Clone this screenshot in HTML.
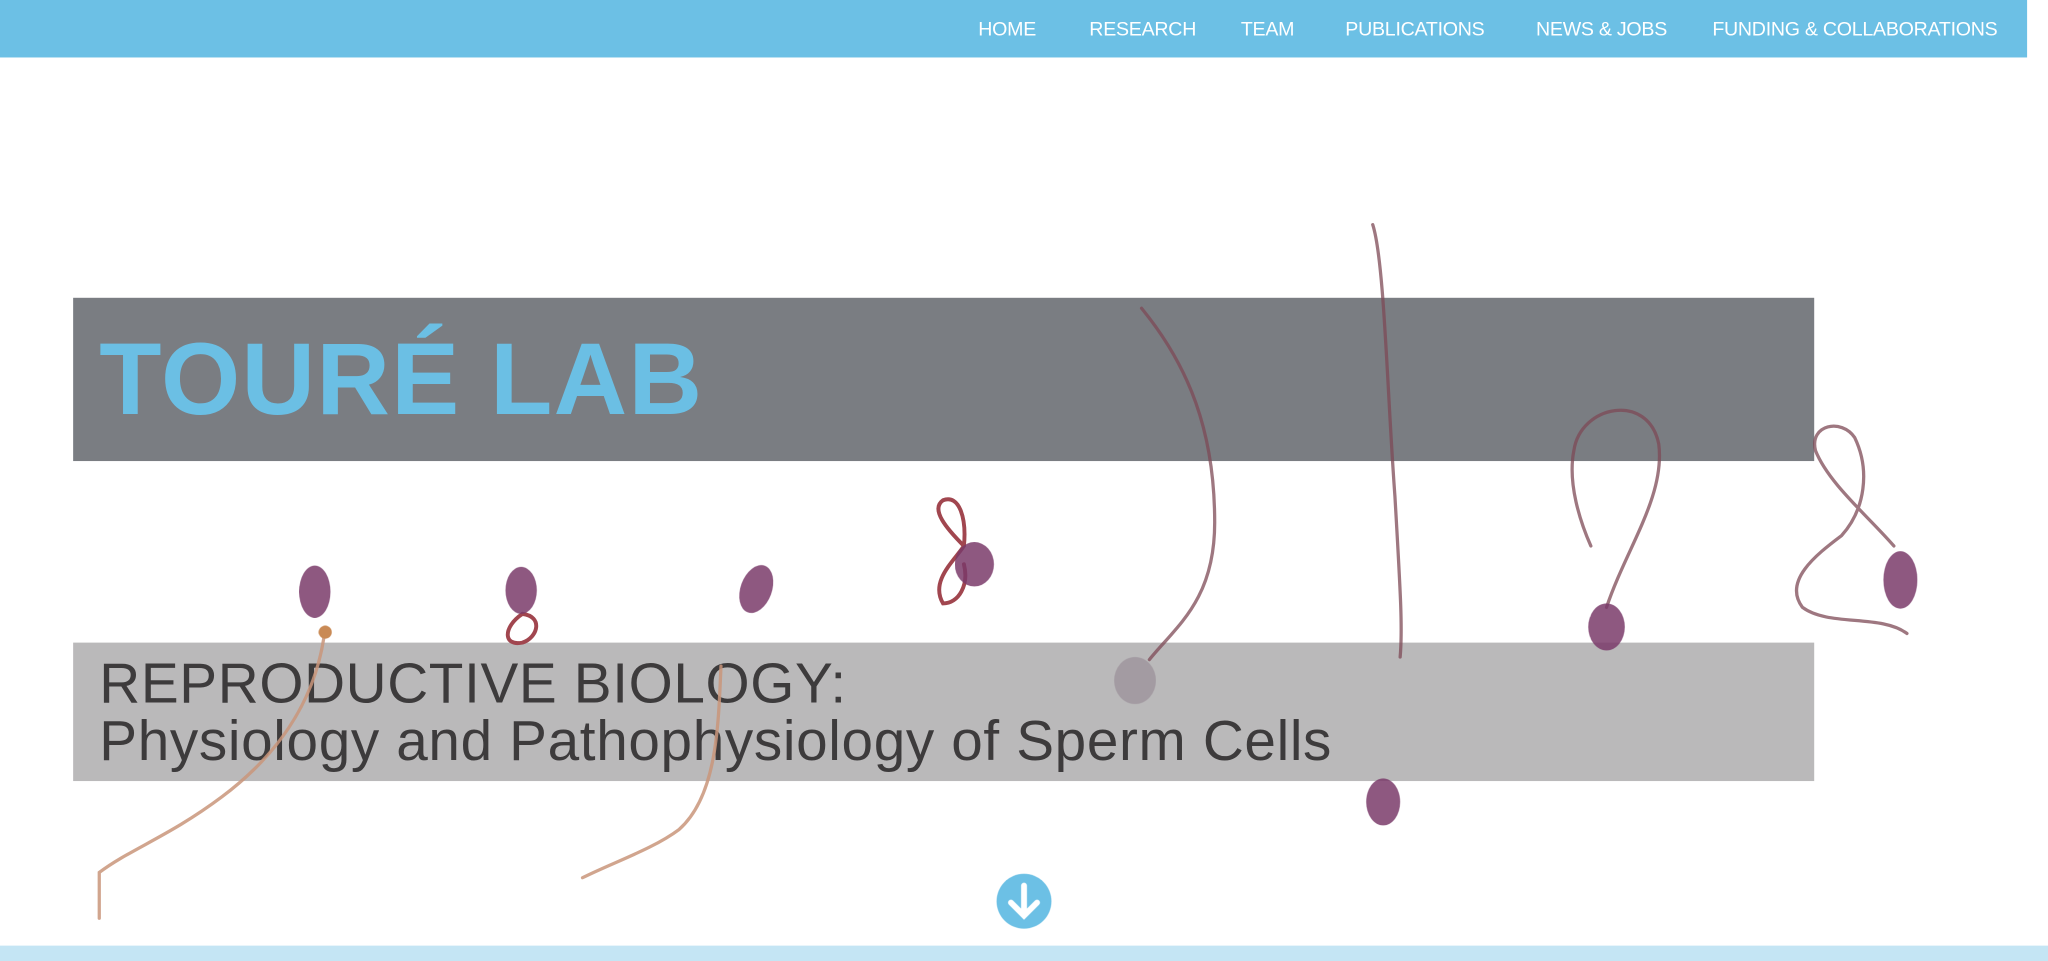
<!DOCTYPE html>
<html><head><meta charset="utf-8"><style>
html,body{margin:0;padding:0;width:2048px;height:961px;overflow:hidden;background:#fff}
#wrap{position:absolute;left:0;top:0;width:1568px;height:736px;transform:scale(1.30612);transform-origin:0 0;font-family:"Liberation Sans",sans-serif}
#nav{position:absolute;left:0;top:0;width:1552px;height:44px;background:#6cc0e5}
.ni{position:absolute;top:14px;color:#fff;font-size:15px;white-space:nowrap;letter-spacing:-0.2px}
#tbox{position:absolute;left:56px;top:228px;width:1333px;height:125px;background:#7a7d82}
#title{position:absolute;left:76px;top:240px;font-size:78px;font-weight:bold;color:#6bbfe4;letter-spacing:1px;line-height:100px}
#sbox{position:absolute;left:56px;top:492px;width:1333px;height:106px;background:#bab9ba}
#sub{position:absolute;left:76px;top:502px;font-size:43.4px;color:#3d3b3c;line-height:44px;letter-spacing:0.5px}
#bottom{position:absolute;left:0;top:724px;width:1568px;height:12px;background:#c4e5f4}
svg{position:absolute;left:0;top:0}
</style></head><body>
<div id="wrap">
<div id="nav">
<span class="ni" style="left:749px">HOME</span>
<span class="ni" style="left:834px">RESEARCH</span>
<span class="ni" style="left:950px">TEAM</span>
<span class="ni" style="left:1030px">PUBLICATIONS</span>
<span class="ni" style="left:1176px">NEWS &amp; JOBS</span>
<span class="ni" style="left:1311px">FUNDING &amp; COLLABORATIONS</span>
</div>
<div id="tbox"></div>
<div id="title">TOURÉ LAB</div>
<div id="sbox"></div>
<div id="sub">REPRODUCTIVE BIOLOGY:<br>Physiology and Pathophysiology of Sperm Cells</div>
<svg width="1568" height="736" fill="none" stroke-linecap="round">
<g stroke="#c9957a" stroke-width="2.5" opacity="0.85">
<path d="M248,488 C240,540 210,580 170,610 C130,640 100,650 76,668 L76,703"/>
<path d="M552,510 C550,560 548,610 520,635 C500,650 470,660 446,672"/>
</g>
<g stroke="#7d4a55" stroke-width="2.5" opacity="0.75">
<path d="M874,236 C910,280 930,330 930,400 C930,460 900,480 880,505"/>
<path d="M1051,172 C1060,200 1062,300 1068,380 C1072,450 1074,480 1072,503"/>
<path d="M1230,465 C1245,420 1275,380 1270,340 C1262,300 1210,310 1205,345 C1200,370 1210,400 1218,418"/>
<path d="M1450,418 C1430,395 1400,370 1390,345 C1385,325 1410,320 1420,335 C1432,360 1428,390 1410,410 C1390,425 1365,445 1380,465 C1400,480 1440,470 1460,485"/>
</g>
<g stroke="#a1464f" stroke-width="3">
<path d="M400,470 C385,480 385,495 400,492 C412,488 416,472 400,470"/>
<path d="M738,418 C725,405 712,390 722,383 C735,378 740,398 738,418 C730,430 712,445 722,462 C734,462 742,448 738,432"/>
</g>
<g fill="#7a3a6a" opacity="0.85">
<ellipse cx="241" cy="453" rx="12" ry="20"/>
<ellipse cx="399" cy="452" rx="12" ry="18"/>
<ellipse cx="579" cy="451" rx="12" ry="19" transform="rotate(20 579 451)"/>
<ellipse cx="746" cy="432" rx="15" ry="17"/>
<ellipse cx="1230" cy="480" rx="14" ry="18"/>
<ellipse cx="1455" cy="444" rx="13" ry="22"/>
<ellipse cx="1059" cy="614" rx="13" ry="18"/>
</g>
<ellipse cx="869" cy="521" rx="16" ry="18" fill="#9a8f98" opacity="0.7"/>
<circle cx="249" cy="484" r="5" fill="#c98a55"/>
<g>
<circle cx="784" cy="690" r="21" fill="#6cc0e5"/>
<path d="M784,678 L784,701 M774,691 L784,701 L794,691" stroke="#fff" stroke-width="4.5"/>
</g>
</svg>
<div id="bottom"></div>
</div>
</body></html>
